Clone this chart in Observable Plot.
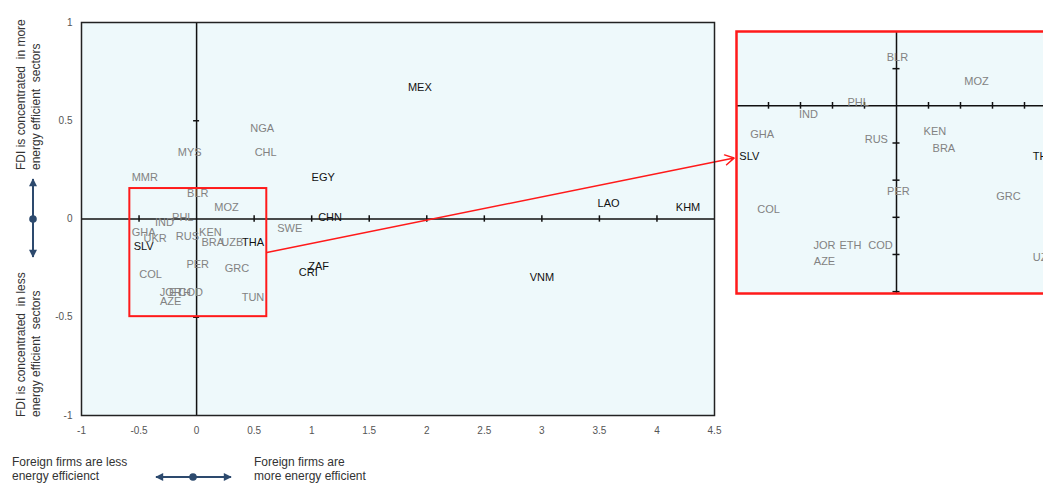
<!DOCTYPE html>
<html>
<head>
<meta charset="utf-8">
<script src="https://cdn.jsdelivr.net/npm/d3@7"></script>
<script src="https://cdn.jsdelivr.net/npm/@observablehq/plot@0.6"></script>
<style>
  html, body { margin: 0; padding: 0; background: #fff; overflow: hidden; }
  #wrap { position: relative; width: 1043px; height: 483px; overflow: hidden; font-family: "Liberation Sans", Arial, sans-serif; }
  #main { position: absolute; left: 0; top: 0; width: 740px; }
  #inset { position: absolute; left: 736px; top: 31px; width: 340px; }
  #wrap svg { max-width: none !important; }
  .note { position: absolute; font-size: 12px; line-height: 14px; color: #333; white-space: pre; }
  .rot { line-height: 15px; transform-origin: left top; transform: rotate(-90deg); }
  svg.deco { position: absolute; left: 0; top: 0; overflow: visible; }
</style>
</head>
<body>
<div id="wrap">
  <div id="main"></div>
  <div id="inset"></div>
  <div class="note rot" style="left:14px; top:170px;">FDI is concentrated  in more
energy efficient  sectors</div>
  <div class="note rot" style="left:14px; top:417px;">FDI is concentrated  in less
energy efficient  sectors</div>
  <div class="note" style="left:12px; top:455px;">Foreign firms are less
energy efficienct</div>
  <div class="note" style="left:254px; top:455px;">Foreign firms are
more energy efficient</div>
  <svg class="deco" width="1043" height="483">
    <defs>
      <marker id="ah" viewBox="0 0 10 10" refX="9" refY="5" markerUnits="userSpaceOnUse" markerWidth="9" markerHeight="8" orient="auto-start-reverse">
        <path d="M0,0 L10,5 L0,10 z" fill="#2d4a6e"></path>
      </marker>
    </defs>
    <line x1="33" y1="179" x2="33" y2="257" stroke="#2d4a6e" stroke-width="2" marker-start="url(#ah)" marker-end="url(#ah)"></line>
    <circle cx="33" cy="219" r="3.8" fill="#2d4a6e"></circle>
    <line x1="156" y1="477" x2="231" y2="477" stroke="#2d4a6e" stroke-width="2" marker-start="url(#ah)" marker-end="url(#ah)"></line>
    <circle cx="193" cy="477" r="3.8" fill="#2d4a6e"></circle>
  </svg>
</div>
<script>
// ---- main chart data ----
const countries = ["MEX","NGA","CHL","MYS","MMR","EGY","BLR","MOZ","CHN","SWE","LAO","KHM",
  "PHL","IND","GHA","UKR","SLV","RUS","KEN","BRA","UZB","THA","PER","GRC","COL",
  "JOR","ETH","COD","AZE","TUN","ZAF","CRI","VNM"];
const xValues = [1.94,0.57,0.60,-0.06,-0.45,1.10,0.01,0.26,1.16,0.81,3.58,4.27,
  -0.12,-0.28,-0.46,-0.36,-0.46,-0.08,0.12,0.14,0.31,0.49,0.01,0.35,-0.40,
  -0.225,-0.144,-0.05,-0.225,0.49,1.06,0.97,3.00];
const yValues = [0.67,0.46,0.34,0.34,0.21,0.21,0.13,0.06,0.01,-0.05,0.08,0.06,
  0.01,-0.02,-0.07,-0.10,-0.14,-0.09,-0.07,-0.12,-0.12,-0.12,-0.23,-0.25,-0.28,
  -0.375,-0.375,-0.375,-0.42,-0.40,-0.24,-0.27,-0.30];
const darkLabels = ["MEX","EGY","CHN","LAO","KHM","VNM","ZAF","CRI","SLV","THA"];

const xTickLabels = [-1,-0.5,0,0.5,1,1.5,2,2.5,3,3.5,4,4.5];
const yTickLabels = [-1,-0.5,0,0.5,1];
const xInnerTicks = [-0.5,0.5,1,1.5,2,2.5,3,3.5,4];
const yInnerTicks = [-0.5,0.5];

// zoom box and connector arrow (data coordinates)
const zoomBox = [{x1: -0.58, x2: 0.61, y1: -0.497, y2: 0.155}];
const connector = [{x1: 0.61, y1: -0.17, x2: 4.67, y2: 0.31}];

// ---- inset data ----
const insetCountries = ["BLR","MOZ","PHL","IND","GHA","SLV","RUS","KEN","BRA","THA","PER","GRC","COL","JOR","ETH","COD","AZE","UZB"];
const insetX = [0.003,0.25,-0.12,-0.275,-0.42,-0.46,-0.063,0.12,0.148,0.46,0.006,0.35,-0.40,-0.225,-0.144,-0.05,-0.225,0.46];
const insetY = [0.13,0.065,0.01,-0.024,-0.076,-0.135,-0.09,-0.07,-0.116,-0.135,-0.23,-0.243,-0.28,-0.376,-0.376,-0.376,-0.42,-0.408];
const insetDark = ["SLV","THA"];
const insetXTicks = [-0.4,-0.3,-0.2,-0.1,0.1,0.2,0.3,0.4,0.5];
const insetYTicks = [0.1,-0.1,-0.2,-0.3,-0.4,-0.5];

const bg = "#eef9fb";
const grey = "#828282";
const dark = "#111111";
const labelFont = "Liberation Sans, Arial, sans-serif";
const tickFont = "Liberation Sans Narrow, Liberation Sans, Arial, sans-serif";

const points = countries.map((c, i) => ({code: c, x: xValues[i], y: yValues[i], dark: darkLabels.includes(c)}));
const insetPoints = insetCountries.map((c, i) => ({code: c, x: insetX[i], y: insetY[i], dark: insetDark.includes(c)}));

const mainPlot = Plot.plot({
  width: 740, height: 440,
  marginLeft: 81, marginRight: 26, marginTop: 22, marginBottom: 25,
  x: {domain: [-1, 4.5]},
  y: {domain: [-1, 1]},
  style: {overflow: "visible", background: "transparent", maxWidth: "none"},
  marks: [
    Plot.frame({fill: bg, stroke: null}),
    Plot.ruleX([0], {stroke: "#111", strokeWidth: 1.5}),
    Plot.ruleY([0], {stroke: "#111", strokeWidth: 1.5}),
    Plot.ruleX(xInnerTicks, {x: d => d, y1: -0.016, y2: 0.016, stroke: "#111", strokeWidth: 1.5}),
    Plot.ruleY(yInnerTicks, {y: d => d, x1: -0.026, x2: 0.026, stroke: "#111", strokeWidth: 1.5}),
    Plot.text(points.filter(d => !d.dark), {x: "x", y: "y", text: "code", fill: grey, fontSize: 11, fontFamily: labelFont}),
    Plot.text(points.filter(d => d.dark), {x: "x", y: "y", text: "code", fill: dark, fontSize: 11, fontFamily: labelFont}),
    Plot.rect(zoomBox, {x1: "x1", x2: "x2", y1: "y1", y2: "y2", fill: "none", stroke: "#ff1a1a", strokeWidth: 2}),
    Plot.arrow(connector, {x1: "x1", y1: "y1", x2: "x2", y2: "y2", stroke: "#ff1a1a", strokeWidth: 1.5, headLength: 10, clip: false}),
    Plot.frame({stroke: "#222", strokeWidth: 1.5}),
    Plot.axisX(xTickLabels, {tickSize: 0, tickPadding: 11, tickFormat: d => String(d), fontSize: 10, fontFamily: tickFont, fill: "#555", label: null}),
    Plot.axisY(yTickLabels, {tickSize: 0, tickPadding: 9, tickFormat: d => String(d), fontSize: 10, fontFamily: tickFont, fill: "#555", label: null})
  ]
});
document.getElementById("main").appendChild(mainPlot);

const insetPlot = Plot.plot({
  width: 340, height: 262,
  marginLeft: 0, marginRight: 0, marginTop: 0, marginBottom: 0,
  x: {domain: [-0.5, 0.5625], axis: null},
  y: {domain: [-0.505, 0.2], axis: null},
  style: {overflow: "visible", background: "transparent", maxWidth: "none"},
  marks: [
    Plot.frame({fill: bg, stroke: null}),
    Plot.ruleX([0], {stroke: "#111", strokeWidth: 1.5}),
    Plot.ruleY([0], {stroke: "#111", strokeWidth: 1.5}),
    Plot.ruleX(insetXTicks, {x: d => d, y1: -0.009, y2: 0.009, stroke: "#111", strokeWidth: 1.5}),
    Plot.ruleY(insetYTicks, {y: d => d, x1: -0.011, x2: 0.011, stroke: "#111", strokeWidth: 1.5}),
    Plot.text(insetPoints.filter(d => !d.dark), {x: "x", y: "y", text: "code", fill: grey, fontSize: 11, fontFamily: labelFont}),
    Plot.text(insetPoints.filter(d => d.dark), {x: "x", y: "y", text: "code", fill: dark, fontSize: 11, fontFamily: labelFont}),
    Plot.frame({stroke: "#ff1a1a", strokeWidth: 2.5})
  ]
});
document.getElementById("inset").appendChild(insetPlot);
</script>
</body>
</html>
